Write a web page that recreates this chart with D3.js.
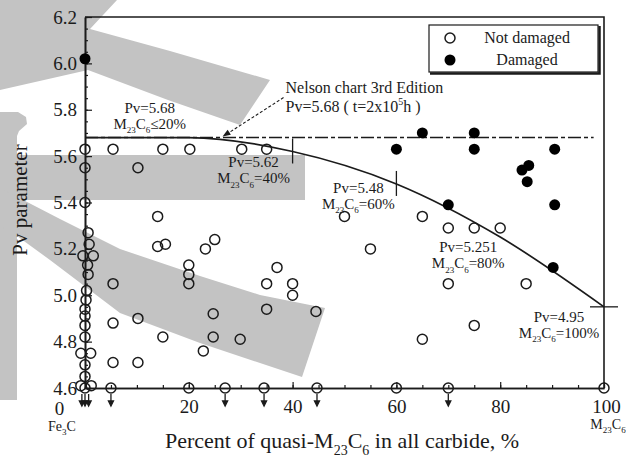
<!DOCTYPE html>
<html>
<head>
<meta charset="utf-8">
<script src="https://cdn.jsdelivr.net/npm/d3@7"></script>
<style>
  html, body { margin: 0; padding: 0; background: #fff; }
  svg { display: block; }
  svg text { font-family: "Liberation Serif", "DejaVu Serif", "Times New Roman", Times, serif; }
</style>
</head>
<body>
<svg id="chart" width="626" height="458"></svg>
<script>
// ---- data -------------------------------------------------------------
const percentTicks = [0, 20, 40, 60, 80, 100];
const pvTicks = [4.6, 4.8, 5.0, 5.2, 5.4, 5.6, 5.8, 6.0, 6.2];

// Not damaged (open circles): percent of quasi-M23C6, Pv parameter
const notDamagedPct = [
  0, 0, 0, 0.6, 0.8, -0.4, 1.6, 0.5, 0.6, 0.3, 0.2, 0, 0, 0, 0, -0.8, 1.1, 0, 0, -0.8, 1.2, 0,
  5.4, 15, 20.2, 30.2, 35,
  10.2, 14, 14, 15.5, 23.2, 25,
  20, 20, 20, 37, 35, 40, 40, 5.4,
  35, 44.5, 5.4, 10.2, 24.7, 24.7, 29.9, 15, 22.8, 5.4, 10.2,
  50, 65, 70, 75, 80, 55, 70, 85, 75, 65,
  5, 20, 27, 34.5, 44.7, 60, 70, 100
];
const notDamagedPv = [
  5.63, 5.55, 5.40, 5.27, 5.22, 5.17, 5.17, 5.13, 5.09, 5.02, 4.98, 4.94, 4.91, 4.87, 4.82, 4.75, 4.75, 4.70, 4.65, 4.61, 4.61, 4.60,
  5.63, 5.63, 5.63, 5.63, 5.63,
  5.55, 5.34, 5.21, 5.22, 5.20, 5.24,
  5.13, 5.09, 5.05, 5.12, 5.05, 5.05, 5.00, 5.05,
  4.94, 4.93, 4.88, 4.90, 4.92, 4.82, 4.81, 4.82, 4.76, 4.71, 4.71,
  5.34, 5.34, 5.29, 5.29, 5.29, 5.20, 5.05, 5.05, 4.87, 4.81,
  4.60, 4.60, 4.60, 4.60, 4.60, 4.60, 4.60, 4.60
];

// Damaged (filled circles)
const damagedPct = [0, 60, 65, 75, 75, 90.5, 84.2, 85.5, 85.2, 70, 90.5, 90.2];
const damagedPv  = [6.02, 5.63, 5.70, 5.70, 5.63, 5.63, 5.54, 5.56, 5.49, 5.39, 5.39, 5.12];

// Results lying below the Pv scale (drawn as downward arrows)
const belowScalePct = [-0.6, 0, 0.7, 5, 27, 34.5, 44.7, 70];

// Proposed limit curve and its labelled points
const curvePct = [0, 20, 40, 60, 80, 100];
const curvePv  = [5.68, 5.68, 5.62, 5.48, 5.251, 4.95];
const labelPct  = [20, 40, 60, 80, 100];
const labelPv   = [5.68, 5.62, 5.48, 5.251, 4.95];
const labelPvText = ["5.68", "5.62", "5.48", "5.251", "4.95"];
const labelShare  = ["≤20%", "=40%", "=60%", "=80%", "=100%"];

// Nelson chart limit
const nelsonPv = 5.68;

// ---- layout -----------------------------------------------------------
const ink = "#1b1b1b";
const shade = "#c3c3c3";
const serif = "'Liberation Serif', 'DejaVu Serif', 'Times New Roman', Times, serif";
const svg = d3.select("#chart");

const x = d3.scaleLinear().domain([0, 100]).range([85, 604]);
const y = d3.scaleLinear().domain([4.6, 6.2]).range([388, 17]);

// broad grey brush strokes sitting behind the plot
const shapes = [
  [[0,0],[117,0],[90,29],[170,51],[270,80],[240,125],[168,100],[88,70],[0,90]],
  [[0,112],[18,112],[26,117],[27,124],[19,131],[17,136],[17,400],[0,400]],
  [[0,155],[305,155],[305,200],[0,200]],
  [[0,188],[60,219],[120,249],[200,276],[260,295],[325,308],[302,377],[200,343],[120,313],[50,260],[17,236],[0,226]]
];
svg.append("g").selectAll("path").data(shapes).join("path")
  .attr("d", d => d3.line()(d) + "Z")
  .attr("fill", shade);

// helper: "M23C6" with subscripts followed by a tail string
function m23c6(text, size, tail) {
  const sub = Math.round(size * 0.62), shift = size * 0.3;
  text.append("tspan").text("M");
  text.append("tspan").attr("font-size", sub).attr("dy", shift).text("23");
  text.append("tspan").attr("font-size", size).attr("dy", -shift).text("C");
  text.append("tspan").attr("font-size", sub).attr("dy", shift).text("6");
  text.append("tspan").attr("font-size", size).attr("dy", -shift).text(tail);
}

// ---- axes -------------------------------------------------------------
const gx = svg.append("g").attr("transform", `translate(0,${y(4.6)})`);
gx.call(d3.axisBottom(x).tickValues(d3.range(0, 101, 5)).tickSize(-3).tickSizeOuter(0).tickFormat(""));
gx.append("g").call(d3.axisBottom(x).tickValues(percentTicks).tickSize(-6).tickSizeOuter(0).tickPadding(12)
  .tickFormat(d3.format("d")));
gx.selectAll("path.domain").attr("stroke", ink).attr("stroke-width", 1.6);
gx.selectAll(".tick line").attr("stroke", ink).attr("stroke-width", 1.2);
gx.selectAll(".tick text").attr("fill", ink).attr("font-size", 19);
gx.selectAll(".tick text").filter(d => d === 0).attr("dx", -26).attr("dy", "0.8em");
gx.selectAll(".tick text").filter(d => d === 100).attr("dx", 2);

const gy = svg.append("g").attr("transform", `translate(${x(0)},0)`);
gy.call(d3.axisLeft(y).tickValues(d3.range(92, 125).map(i => i / 20)).tickSize(-3).tickSizeOuter(0).tickFormat(""));
gy.append("g").call(d3.axisLeft(y).tickValues(pvTicks).tickSize(-7).tickSizeOuter(0).tickPadding(8)
  .tickFormat(d3.format(".1f")));
gy.selectAll("path.domain").attr("stroke", ink).attr("stroke-width", 1.6);
gy.selectAll(".tick line").attr("stroke", ink).attr("stroke-width", 1.2);
gy.selectAll(".tick text").attr("fill", ink).attr("font-size", 19);

// top and right frame
svg.append("path")
  .attr("d", `M${x(0)},${y(6.2)}H${x(100)}V${y(4.6)}`)
  .attr("fill", "none").attr("stroke", ink).attr("stroke-width", 1.6);

// end-point labels under the percent axis
svg.append("text").attr("x", x(0) - 23).attr("y", 431).attr("text-anchor", "middle")
  .attr("font-size", 14).attr("fill", ink)
  .call(t => { t.append("tspan").text("Fe"); t.append("tspan").attr("font-size", 9).attr("dy", 4).text("3");
               t.append("tspan").attr("font-size", 14).attr("dy", -4).text("C"); });
svg.append("text").attr("x", x(100) + 4).attr("y", 429).attr("text-anchor", "middle")
  .attr("font-size", 14).attr("fill", ink).call(t => m23c6(t, 14, ""));

// axis titles
svg.append("text").attr("x", 342).attr("y", 448).attr("text-anchor", "middle")
  .attr("font-size", 22).attr("fill", ink)
  .call(t => { t.append("tspan").text("Percent of quasi-"); m23c6(t, 22, " in all carbide, %"); });
svg.append("text").attr("transform", "translate(27,200) rotate(-90)").attr("text-anchor", "middle")
  .attr("font-size", 21).attr("fill", ink).text("Pv parameter");

// ---- limit lines --------------------------------------------------------
svg.append("line")
  .attr("x1", x(0)).attr("x2", x(98)).attr("y1", y(nelsonPv)).attr("y2", y(nelsonPv))
  .attr("stroke", ink).attr("stroke-width", 1.5).attr("stroke-dasharray", "13,3,4,3");

const curvePts = curvePct.map((p, i) => [x(p), y(curvePv[i])]);
svg.append("path")
  .attr("d", d3.line().curve(d3.curveMonotoneX)(curvePts))
  .attr("fill", "none").attr("stroke", ink).attr("stroke-width", 1.7);

// short bars marking the labelled curve points
[40, 60].forEach(p => {
  const i = curvePct.indexOf(p);
  svg.append("line").attr("x1", x(p)).attr("x2", x(p))
    .attr("y1", y(curvePv[i]) - 13).attr("y2", y(curvePv[i]) + 12)
    .attr("stroke", ink).attr("stroke-width", 1.3);
});
svg.append("line").attr("x1", x(100) - 14).attr("x2", x(100) + 14)
  .attr("y1", y(4.95)).attr("y2", y(4.95)).attr("stroke", ink).attr("stroke-width", 1.3);

// curve point labels
const labelOffset = [[-39, -30], [-39, 11], [-38, 4], [-32, 10], [-45, 10]];
labelPct.forEach((p, i) => {
  const cx = x(p) + labelOffset[i][0], cy = y(labelPv[i]) + labelOffset[i][1];
  svg.append("text").attr("x", cx).attr("y", cy + 5).attr("text-anchor", "middle")
    .attr("font-size", 15).attr("fill", ink).text("Pv=" + labelPvText[i]);
  svg.append("text").attr("x", cx).attr("y", cy + 21).attr("text-anchor", "middle")
    .attr("font-size", 15).attr("fill", ink).call(t => m23c6(t, 15, labelShare[i]));
});

// Nelson chart note with dashed pointer
const tip = [x(26.5), y(nelsonPv) - 1];
const tail = [tip[0] + 61, tip[1] - 39];
svg.append("line").attr("x1", tail[0]).attr("y1", tail[1]).attr("x2", tip[0] + 5).attr("y2", tip[1] - 3)
  .attr("stroke", ink).attr("stroke-width", 1.1).attr("stroke-dasharray", "3,2");
const ang = Math.atan2(tip[1] - tail[1], tip[0] - tail[0]);
const head = [0, 1, 2].map(k => {
  if (k === 0) return tip;
  const s = k === 1 ? 1 : -1;
  return [tip[0] - 8 * Math.cos(ang) + s * 3 * Math.sin(ang), tip[1] - 8 * Math.sin(ang) - s * 3 * Math.cos(ang)];
});
svg.append("path").attr("d", d3.line()(head) + "Z").attr("fill", ink);
svg.append("text").attr("x", tail[0] + 2).attr("y", tail[1] - 5).attr("font-size", 16).attr("fill", ink)
  .text("Nelson chart 3rd Edition");
svg.append("text").attr("x", tail[0] + 2).attr("y", tail[1] + 14).attr("font-size", 16).attr("fill", ink)
  .call(t => {
    t.append("tspan").text(`Pv=${nelsonPv.toFixed(2)} ( t=2x10`);
    t.append("tspan").attr("font-size", 10).attr("dy", -7).text("5");
    t.append("tspan").attr("font-size", 16).attr("dy", 7).text("h )");
  });

// ---- points -------------------------------------------------------------
svg.append("g").selectAll("path").data(belowScalePct).join("path")
  .attr("d", p => {
    const px = x(p), top = y(4.6) + 6;
    return `M${px},${top}V${top + 9}M${px - 2.5},${top + 7}L${px},${top + 12}L${px + 2.5},${top + 7}Z`;
  })
  .attr("fill", ink).attr("stroke", ink).attr("stroke-width", 1.3);

svg.append("g").selectAll("circle").data(notDamagedPct).join("circle")
  .attr("cx", (p) => x(p)).attr("cy", (p, i) => y(notDamagedPv[i])).attr("r", 5)
  .attr("fill", "none").attr("stroke", ink).attr("stroke-width", 1.5);

svg.append("g").selectAll("circle").data(damagedPct).join("circle")
  .attr("cx", p => x(p)).attr("cy", (p, i) => y(damagedPv[i])).attr("r", 5.5)
  .attr("fill", "#000");

// ---- legend ---------------------------------------------------------------
const lg = svg.append("g");
lg.append("rect").attr("x", 429).attr("y", 25).attr("width", 169).attr("height", 47)
  .attr("fill", "#fff").attr("stroke", ink).attr("stroke-width", 1.2);
lg.append("path").attr("d", "M599.5,26V73.5H430").attr("fill", "none").attr("stroke", ink).attr("stroke-width", 2.5);
lg.append("circle").attr("cx", 450).attr("cy", 38).attr("r", 5).attr("fill", "none").attr("stroke", ink).attr("stroke-width", 1.5);
lg.append("circle").attr("cx", 450).attr("cy", 60).attr("r", 5.5).attr("fill", "#000");
lg.append("text").attr("x", 527).attr("y", 43).attr("text-anchor", "middle").attr("font-size", 16).attr("fill", ink).text("Not damaged");
lg.append("text").attr("x", 527).attr("y", 65).attr("text-anchor", "middle").attr("font-size", 16).attr("fill", ink).text("Damaged");

// every label in the serif face
svg.selectAll("text").attr("font-family", serif);
</script>
</body>
</html>
